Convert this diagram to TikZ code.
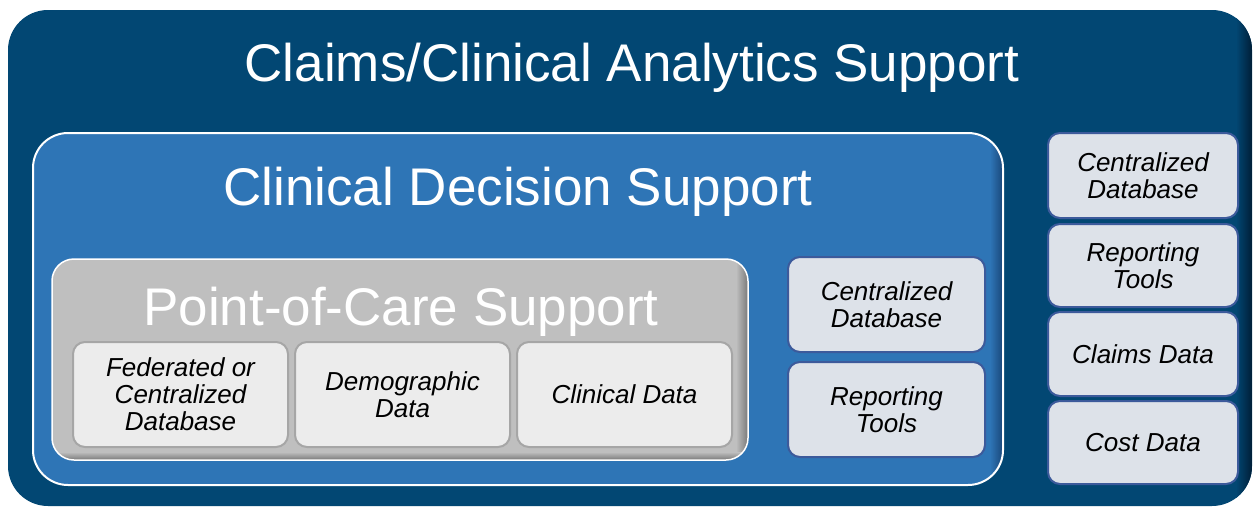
\documentclass[tikz,border=0pt]{standalone}
\usepackage{fontspec}
\setmainfont{Liberation Sans}
\usetikzlibrary{fadings}
\definecolor{outerblue}{RGB}{2,71,115}
\definecolor{outerdark}{RGB}{0,30,55}
\definecolor{cdsblue}{RGB}{46,117,182}
\definecolor{cdsdark}{RGB}{25,70,120}
\definecolor{pocgray}{RGB}{191,191,191}
\definecolor{pocdark}{RGB}{120,120,120}
\definecolor{graybox}{RGB}{236,236,236}
\definecolor{grayline}{RGB}{166,166,166}
\definecolor{bluebox}{RGB}{221,226,233}
\definecolor{blueline}{RGB}{60,90,155}
\tikzset{
  bigtitle/.style={text=white, font=\fontsize{53}{60}\selectfont, anchor=base, inner sep=0pt},
  itembox/.style={rounded corners=12pt, line width=2pt, inner sep=0pt,
    align=center, font=\fontsize{26}{27}\selectfont\itshape, text=black},
  grayitem/.style={itembox, fill=graybox, draw=grayline},
  blueitem/.style={itembox, fill=bluebox, draw=blueline},
}
\begin{document}
\begin{tikzpicture}[x=1pt,y=-1pt]
\useasboundingbox (0,0) rectangle (1255,506);
\begin{scope}
\clip (0,0) rectangle (1255,506);
% outer box
\path[fill=outerblue, rounded corners=40pt] (8,10) rectangle (1252,506);
\begin{scope}
\clip[rounded corners=40pt] (8,10) rectangle (1252,506);
\shade[left color=outerblue, right color=outerdark] (1236,0) rectangle (1252,520);
\end{scope}
\end{scope}
\node[bigtitle] (t1) at (632,81) {Claims/Clinical Analytics Support};
% clinical decision support box
\path[fill=cdsblue, rounded corners=35pt] (33,133) rectangle (1003,485);
\begin{scope}
\clip[rounded corners=35pt] (33,133) rectangle (1003,485);
\shade[left color=cdsblue, right color=cdsdark] (990,130) rectangle (1003,490);
\end{scope}
\draw[white, line width=2pt, rounded corners=35pt] (33,133) rectangle (1003,485);
\node[bigtitle] (t2) at (518,205) {Clinical Decision Support};
% point of care box
\path[fill=pocgray, rounded corners=22pt] (52,259) rectangle (748,460);
\begin{scope}
\clip[rounded corners=22pt] (52,259) rectangle (748,460);
\shade[left color=pocgray, right color=pocdark] (736,255) rectangle (748,465);
\shade[top color=pocgray, bottom color=pocdark] (48,452) rectangle (752,460);
\end{scope}
\draw[white, line width=1.5pt, rounded corners=22pt] (52,259) rectangle (748,460);
\node[bigtitle] (t3) at (401,325) {Point-of-Care Support};
% point of care items
\node[grayitem, minimum width=215pt, minimum height=105pt] (fed) at (180.5,394.5) {Federated or\\Centralized\\Database};
\node[grayitem, minimum width=215pt, minimum height=105pt] (demo) at (402.5,394.5) {Demographic\\Data};
\node[grayitem, minimum width=215pt, minimum height=105pt] (clin) at (624.5,394.5) {Clinical Data};
% clinical decision support items
\node[blueitem, minimum width=197pt, minimum height=95pt] (cdb1) at (886.5,304.5) {Centralized\\Database};
\node[blueitem, minimum width=197pt, minimum height=95pt] (rep1) at (886.5,409.5) {Reporting\\Tools};
% claims analytics items
\node[blueitem, minimum width=190pt, minimum height=85pt] (cdb2) at (1143,175.5) {Centralized\\Database};
\node[blueitem, minimum width=190pt, minimum height=83pt] (rep2) at (1143,265.5) {Reporting\\Tools};
\node[blueitem, minimum width=190pt, minimum height=84pt] (claims) at (1143,354) {Claims Data};
\node[blueitem, minimum width=190pt, minimum height=83pt] (cost) at (1143,442.5) {Cost Data};
\end{tikzpicture}
\end{document}
